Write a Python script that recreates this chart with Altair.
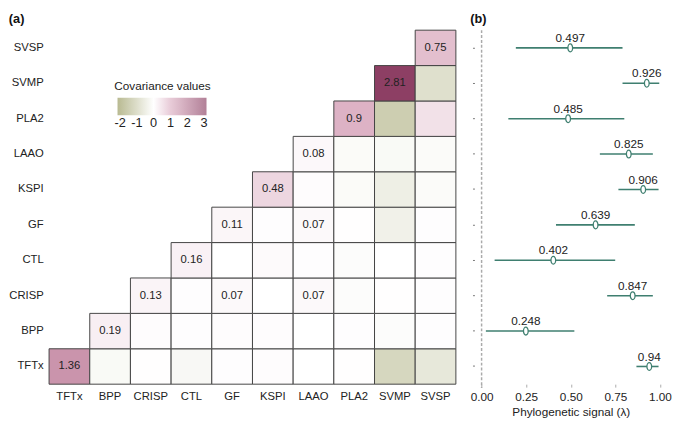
import altair as alt
import pandas as pd

FONT = "Liberation Sans"

genes = ["TFTx", "BPP", "CRISP", "CTL", "GF", "KSPI", "LAAO", "PLA2", "SVMP", "SVSP"]

# diagonal variances
diag = [1.36, 0.19, 0.13, 0.16, 0.11, 0.48, 0.08, 0.9, 2.81, 0.75]

# upper-triangle covariances (row gene vs. later genes), estimated from colour
upper = [
    [-0.10, 0.01, -0.12, 0.02, 0.03, 0.00, 0.01, -0.73, -0.42],   # TFTx
    [0.03, 0.02, 0.03, 0.03, 0.00, 0.02, -0.05, 0.02],            # BPP
    [0.02, 0.07, 0.00, 0.07, -0.05, 0.01, 0.02],                  # CRISP
    [0.00, 0.06, 0.02, -0.05, 0.00, 0.02],                        # CTL
    [0.02, 0.07, 0.01, -0.25, 0.02],                              # GF
    [0.03, -0.08, -0.30, -0.07],                                  # KSPI
    [-0.08, -0.10, -0.07],                                        # LAAO
    [-0.90, 0.35],                                                # PLA2
    [-0.57],                                                      # SVMP
]
labelled_pairs = [("CRISP", "GF"), ("CRISP", "LAAO"), ("GF", "LAAO")]

# colour scale stops and legend ticks
cov_stops = [-2.15, -1, 0, 1, 2, 3.15]
cov_colors = ["#8a8c49", "#c7c8a8", "#ffffff", "#d9a9be", "#b06e8c", "#7e2b53"]
legend_values = [-2, -1, 0, 1, 2, 3]

# phylogenetic signal (lambda) with interval
lam = [0.94, 0.248, 0.847, 0.402, 0.639, 0.906, 0.825, 0.485, 0.926, 0.497]
lam_lo = [0.868, 0.024, 0.704, 0.073, 0.417, 0.767, 0.663, 0.150, 0.790, 0.192]
lam_hi = [0.992, 0.520, 0.960, 0.749, 0.859, 0.992, 0.960, 0.800, 0.996, 0.790]

cells = []
for i, r in enumerate(genes):
    for j in range(i, len(genes)):
        c = genes[j]
        v = diag[i] if i == j else upper[i][j - i - 1]
        lab = str(v) if (i == j or (r, c) in labelled_pairs) else ""
        cells.append({"row": r, "col": c, "value": v, "label": lab})
cells = pd.DataFrame(cells)

xa = alt.X("col:N", sort=genes, scale=alt.Scale(paddingInner=0, paddingOuter=0),
           axis=alt.Axis(title=None, labelAngle=0, ticks=False, domain=False,
                         labelPadding=7, labelFontSize=11.5, labelColor="#222", labelFont=FONT))
ya = alt.Y("row:N", sort=genes[::-1], scale=alt.Scale(paddingInner=0, paddingOuter=0),
           axis=alt.Axis(title=None, ticks=False, domain=False, labelPadding=6,
                         labelFontSize=11.5, labelColor="#222", labelFont=FONT))

rect = alt.Chart(cells).mark_rect(stroke="#444", strokeWidth=1).encode(
    x=xa, y=ya,
    color=alt.Color("value:Q",
                    scale=alt.Scale(domain=cov_stops, interpolate="rgb", range=cov_colors),
                    legend=alt.Legend(orient="none", legendX=67, legendY=52,
                                      direction="horizontal", title="Covariance values",
                                      titleFontSize=12, titleFontWeight="normal",
                                      titleAnchor="middle", titleFont=FONT, titleColor="#222",
                                      gradientLength=91, gradientThickness=18,
                                      gradientStrokeWidth=0, gradientOpacity=0.6,
                                      values=legend_values, labelOverlap=False, labelAlign="center",
                                      labelExpr="datum.value < 0 ? '-' + abs(datum.value) : '' + datum.value",
                                      labelFontSize=13, labelFont=FONT, labelColor="#222")),
)
txt = alt.Chart(cells).mark_text(fontSize=11.5, color="#222", font=FONT).encode(
    x=xa, y=ya, text="label:N")

heat = (rect + txt).properties(width=416, height=362, title="(a)")

lamdf = pd.DataFrame({"gene": genes, "lam": lam, "lo": lam_lo, "hi": lam_hi,
                      "lab": [str(v) for v in lam]})

xscale = alt.Scale(domain=[-0.04, 1.04], nice=False, zero=False)
xaxis = alt.Axis(values=[0, 0.25, 0.5, 0.75, 1], format=".2f", title="Phylogenetic signal (λ)",
                 grid=False, domain=False, tickSize=3, tickColor="#aaa",
                 labelFontSize=12, labelColor="#222", labelFont=FONT,
                 titleFontSize=12, titleFontWeight="normal", titleColor="#222",
                 titleFont=FONT, titlePadding=4, labelPadding=5)
yb = alt.Y("gene:N", sort=genes[::-1], scale=alt.Scale(paddingInner=0, paddingOuter=0),
           axis=alt.Axis(title=None, labels=False, domain=False, tickSize=2, tickColor="#777"))

TEAL = "#3f7f70"
ci = alt.Chart(lamdf).mark_rule(color=TEAL, strokeWidth=1.6).encode(
    x=alt.X("lo:Q", scale=xscale, axis=xaxis), x2="hi:Q", y=yb)
zero = alt.Chart(pd.DataFrame({"z": [0]})).mark_rule(
    color="#aaa", strokeDash=[3, 2], strokeWidth=1.5).encode(
    x=alt.X("z:Q", scale=xscale, axis=xaxis), y=alt.value(0), y2=alt.value(366))
ellipse = "M0,-1 A0.6,1 0 1,1 0,1 A0.6,1 0 1,1 0,-1 Z"
pts = alt.Chart(lamdf).mark_point(shape=ellipse, filled=True, fill="white", stroke=TEAL,
                                  strokeWidth=1.3, size=64, opacity=1).encode(
    x=alt.X("lam:Q", scale=xscale, axis=xaxis), y=yb)
labs = alt.Chart(lamdf).mark_text(dy=-10, fontSize=12, color="#222", font=FONT).encode(
    x=alt.X("lam:Q", scale=xscale, axis=xaxis), y=yb, text="lab:N")

lamchart = (zero + ci + pts + labs).properties(width=197, height=362, title="(b)")

chart = alt.hconcat(heat, lamchart, spacing=13).properties(
    padding={"left": 0, "top": 0, "right": 0, "bottom": 0}
).configure_view(stroke=None).configure_title(
    fontSize=13, fontWeight="bold", anchor="start", offset=0, font=FONT, color="#111"
)

chart.save("out.html", embed_options={"renderer": "svg", "actions": False})
